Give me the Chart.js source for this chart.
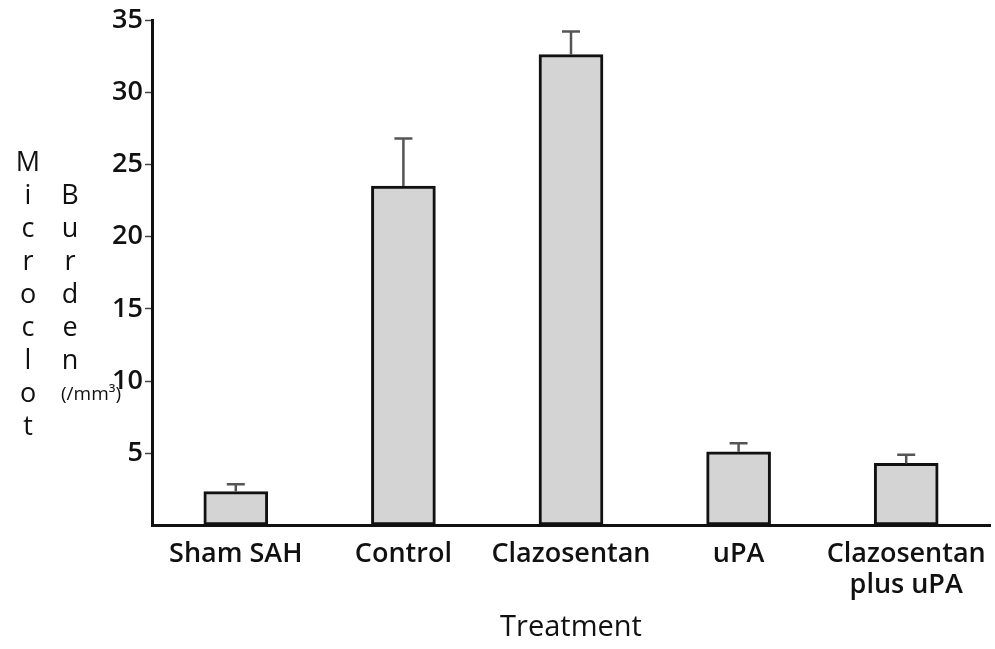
<!DOCTYPE html>
<html>
<head>
<meta charset="utf-8">
<script src="https://cdn.jsdelivr.net/npm/chart.js@4/dist/chart.umd.min.js"></script>
<style>
  html, body { margin: 0; padding: 0; background: #fff; }
  #wrap { width: 995px; height: 649px; }
</style>
</head>
<body>
<div id="wrap"><canvas id="grafica"></canvas></div>
<script>
const labels = ['Sham SAH', 'Control', 'Clazosentan', 'uPA', ['Clazosentan', 'plus uPA']]
const burden = [2.35, 23.5, 32.6, 5.1, 4.3]
const errors = [0.5, 3.3, 1.6, 0.6, 0.6]
const yTicks = [0, 5, 10, 15, 20, 25, 30, 35]

const graph = document.querySelector('#grafica')

// vertical axis title, one letter per line like the original
const titleLetters = {
    id: 'titleLetters',
    afterDraw(chart) {
        const ctx = chart.ctx
        ctx.save()
        ctx.fillStyle = '#111'
        ctx.textAlign = 'center'
        ctx.textBaseline = 'middle'
        ctx.font = '500 27px "Open Sans"'
        'Microclot'.split('').forEach((ch, i) => ctx.fillText(ch, 28, 163 + i * 33))
        'Burden'.split('').forEach((ch, i) => ctx.fillText(ch, 70, 196 + i * 33))
        ctx.font = '19px "Open Sans"'
        ctx.fillText('(/mm³)', 91, 395)
        ctx.restore()
    }
}

// upper error bars from the errors array
const errorBars = {
    id: 'errorBars',
    afterDatasetsDraw(chart) {
        const ctx = chart.ctx
        const y = chart.scales.y
        const meta = chart.getDatasetMeta(0)
        ctx.save()
        ctx.strokeStyle = '#555'
        ctx.lineWidth = 2.5
        meta.data.forEach((bar, i) => {
            const top = y.getPixelForValue(burden[i] + errors[i])
            ctx.beginPath()
            ctx.moveTo(bar.x, bar.y)
            ctx.lineTo(bar.x, top)
            ctx.moveTo(bar.x - 9, top)
            ctx.lineTo(bar.x + 9, top)
            ctx.stroke()
        })
        ctx.restore()
    }
}

const data = {
    labels: labels,
    datasets: [{
        label: 'Microclot Burden',
        data: burden,
        backgroundColor: '#d4d4d4',
        borderColor: '#111',
        borderWidth: 3,
        borderSkipped: false,
        barThickness: 64
    }]
}

const config = {
    type: 'bar',
    data: data,
    options: {
        responsive: true,
        maintainAspectRatio: false,
        animation: false,
        layout: { padding: { top: 20, right: 5, left: 0, bottom: 0 } },
        plugins: {
            legend: { display: false },
            tooltip: { enabled: false }
        },
        scales: {
            x: {
                grid: { display: false },
                border: { color: '#111', width: 3 },
                ticks: {
                    color: '#111',
                    padding: 5,
                    maxRotation: 0,
                    font: { family: 'Open Sans', size: 27, weight: 600, lineHeight: 1.15 }
                },
                title: {
                    display: true,
                    text: 'Treatment',
                    color: '#111',
                    padding: { top: 0, bottom: 4 },
                    font: { family: 'Open Sans', size: 29 }
                },
                afterFit(scale) { scale.height = 123.5 }
            },
            y: {
                min: 0,
                max: 35,
                afterBuildTicks(scale) { scale.ticks = yTicks.map(v => ({ value: v })) },
                grid: {
                    drawOnChartArea: false,
                    tickLength: 7,
                    tickWidth: 1.5,
                    tickColor: ctx => ctx.tick && ctx.tick.value === 0 ? 'rgba(0,0,0,0)' : '#444'
                },
                border: { color: '#111', width: 3 },
                ticks: {
                    color: '#111',
                    padding: 2,
                    font: { family: 'Open Sans', size: 27, weight: 600 },
                    callback: v => v === 0 ? '' : v
                },
                afterFit(scale) { scale.width = 152 }
            }
        }
    },
    plugins: [titleLetters, errorBars]
}

new Chart(graph, config)
</script>
</body>
</html>
